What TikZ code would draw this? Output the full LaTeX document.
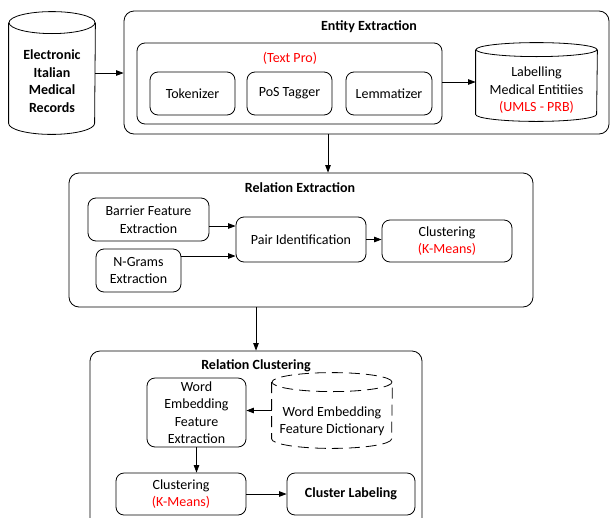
\documentclass[tikz,border=0pt]{standalone}
\usepackage{fontspec}
\setmainfont{Carlito}
\usepackage{tikz}
\usetikzlibrary{arrows.meta}

\tikzset{
  stage/.style={draw, rounded corners=10pt, inner sep=0pt},
  task/.style={draw, rounded corners=8pt, align=center, inner sep=0pt},
  drum/.style={inner sep=0pt},
  heading/.style={font=\fontsize{14}{17.5}\selectfont\bfseries},
  tool/.style={text=red},
  flow/.style={-{Triangle[length=7.5pt,width=5.5pt]}},
  gapdash/.style={dash pattern=on 11pt off 6pt},
}
% outline of a standing drum round a node: #2 node, #3 x radius, #4 y radius
\newcommand{\drawdrum}[4][]{%
  \draw[#1] ([yshift=-#4]#2.north) ellipse[x radius=#3, y radius=#4];
  \draw[#1] ([yshift=-#4]#2.north west) -- ([yshift=#4]#2.south west)
    arc[start angle=180, end angle=360, x radius=#3, y radius=#4]
    -- ([yshift=-#4]#2.north east);
}

\begin{document}
\begin{tikzpicture}[x=1pt, y=-1pt, line width=0.8pt, line join=round,
  font=\fontsize{14}{17.5}\selectfont]
\useasboundingbox (0,0) rectangle (610,517);
\clip (0,0) rectangle (610,517);

% records
\node[drum, minimum width=86pt, minimum height=122pt,
  label={[heading, align=center, yshift=-8pt]center:Electronic\\Italian\\Medical\\Records}] (emr) at (52,73) {};
\drawdrum{emr}{43pt}{11pt}

% entity extraction
\node[stage, minimum width=485pt, minimum height=123pt] (ee) at (366.5,72.5) {};
\node[heading] (eetitle) at (369,26.5) {Entity Extraction};
\node[task, minimum width=305pt, minimum height=81pt] (tp) at (289.5,83.5) {};
\node[tool] (tptitle) at (290,58.5) {(Text Pro)};
\node[task, minimum width=85pt, minimum height=43pt] (tok) at (192.5,93.5) {Tokenizer};
\node[task, minimum width=85pt, minimum height=43pt] (pos) at (289.5,93.5) {PoS Tagger};
\node[task, minimum width=86pt, minimum height=43pt] (lem) at (389,93.5) {Lemmatizer};
\node[drum, minimum width=121pt, minimum height=78pt,
  label={[align=center, yshift=-8.5pt]center:Labelling\\Medical Entitiies\\\textcolor{red}{(UMLS - PRB)}}] (lab) at (536.5,82) {};
\drawdrum{lab}{60.5pt}{7pt}

% relation extraction
\node[stage, minimum width=464pt, minimum height=134pt] (re) at (301,240) {};
\node[heading] (retitle) at (300,187.5) {Relation Extraction};
\node[task, minimum width=121pt, minimum height=43pt] (bfe) at (148.5,219.5) {Barrier Feature\\Extraction};
\node[task, minimum width=85pt, minimum height=43pt] (ngr) at (138.5,270.5) {N-Grams\\Extraction};
\node[task, minimum width=130pt, minimum height=45pt] (pid) at (301,239.5) {Pair Identification};
\node[task, minimum width=130pt, minimum height=42pt] (clu1) at (447,241) {Clustering\\\textcolor{red}{(K-Means)}};

% relation clustering
\node[stage, minimum width=332pt, minimum height=180pt] (rc) at (256,441) {};
\node[heading] (rctitle) at (256,365.5) {Relation Clustering};
\node[task, minimum width=99pt, minimum height=69pt] (wefe) at (196.5,412.5) {Word\\Embedding\\Feature\\Extraction};
\node[drum, minimum width=120pt, minimum height=75pt,
  label={[align=center, yshift=-11pt]center:Word Embedding\\Feature Dictionary}] (dict) at (332,410.5) {};
\drawdrum[gapdash]{dict}{60pt}{9.5pt}
\node[task, minimum width=130pt, minimum height=42pt] (clu2) at (181,494) {Clustering\\\textcolor{red}{(K-Means)}};
\node[task, heading, minimum width=128pt, minimum height=42pt] (cl) at (351,494) {Cluster Labeling};

% connectors
\draw[flow] (emr.east) -- (emr.east -| ee.west);
\draw[flow] (lab.west -| tp.east) -- (lab.west);
\draw[flow] ([xshift=-38.5pt]ee.south) -- ([xshift=-38.5pt]ee.south |- re.north);
\draw[flow] ([yshift=-6.5pt]bfe.east) -- ([yshift=-6.5pt]bfe.east -| pid.west);
\draw[flow] ([yshift=14.5pt]ngr.east) -- ([yshift=14.5pt]ngr.east -| pid.west);
\draw[flow] (pid.east) -- (pid.east -| clu1.west);
\draw[flow] (rc.north |- re.south) -- (rc.north);
\draw[flow] (dict.west) -- (dict.west -| wefe.east);
\draw[flow] (wefe.south) -- (wefe.south |- clu2.north);
\draw[flow] (clu2.east |- cl.west) -- (cl.west);
\end{tikzpicture}
\end{document}
